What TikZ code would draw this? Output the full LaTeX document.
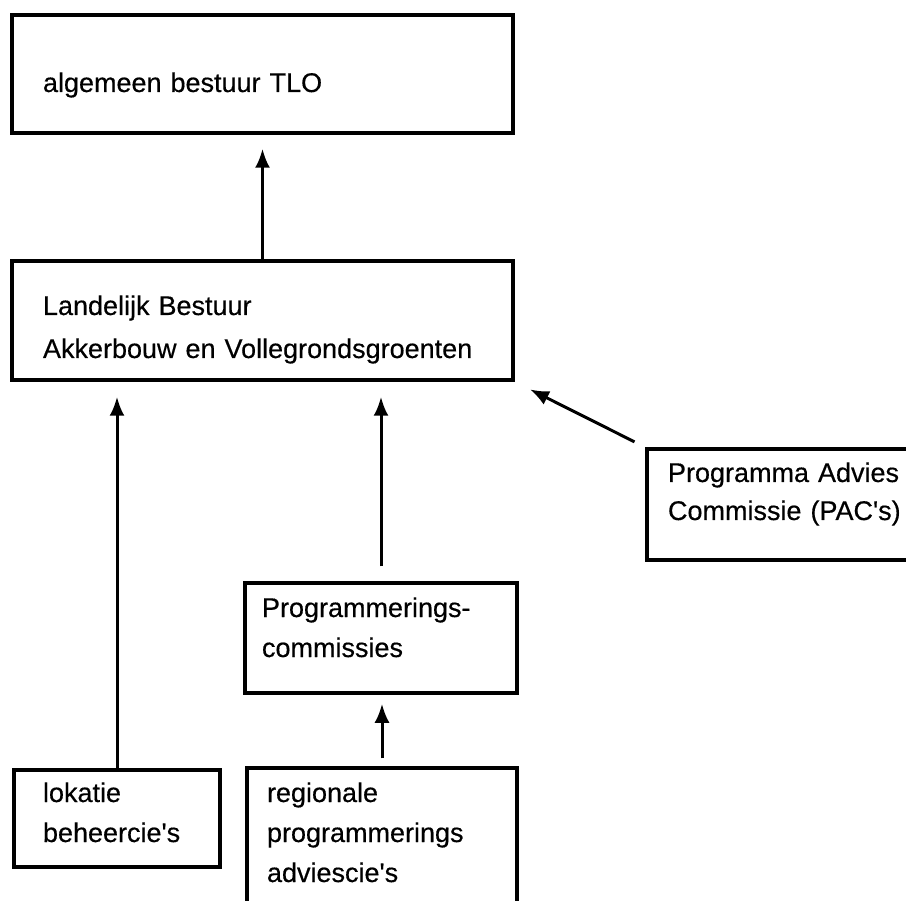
\documentclass[tikz,border=0pt]{standalone}
\usepackage{fontspec}
\setmainfont{Liberation Sans}
\newfontfamily\heavysans{Liberation Sans}[FakeBold=0.4]
\usetikzlibrary{arrows.meta}

\begin{document}
\begin{tikzpicture}[x=1pt, y=-1pt,
  font=\heavysans\fontsize{27}{40}\selectfont,
  box/.style={rectangle, draw, line width=3.5pt, align=left, inner ysep=0pt},
  link/.style={-{Latex[length=19pt,width=15pt]}, line width=3pt}]
  \useasboundingbox (0,0) rectangle (906,901);
  % Nodes
  \node (tlo) [box, inner xsep=31pt, text width=439pt, text height=77pt, text depth=41pt] at (262.5, 74) {algemeen bestuur TLO};
  \node (lb) [box, inner xsep=31pt, text width=439pt, text height=54pt, text depth=65pt] at (262.5, 320.5) {Landelijk Bestuur\\[3pt]Akkerbouw en Vollegrondsgroenten};
  \node (pac) [box, inner xsep=21pt, text width=241pt, text height=33pt, text depth=78pt] at (788.5, 504.5) {Programma Advies\\[-2pt]Commissie (PAC\textquotesingle s)};
  \node (prog) [box, inner xsep=17pt, text width=238pt, text height=34pt, text depth=76pt] at (381, 638) {Programmerings-\\commissies};
  \node (lok) [box, inner xsep=29pt, text width=148pt, text height=32pt, text depth=65pt] at (117, 818.5) {lokatie\\beheercie\textquotesingle s};
  \node (reg) [box, inner xsep=20pt, text width=230pt, text height=34pt, text depth=113pt] at (382, 841.5) {regionale\\programmerings\\adviescie\textquotesingle s};
  % Arrows
  \draw[link, shorten >=14pt] (lb.north) -- (tlo.south);
  \draw[link, shorten >=15pt] (lok.north) -- (lok.north |- lb.south);
  \draw[link, shorten <=15pt, shorten >=15pt] (prog.north) -- (prog.north |- lb.south);
  \draw[link, shorten <=8pt, shorten >=9pt] (reg.north) -- (reg.north |- prog.south);
  \draw[link, shorten <=12pt, shorten >=17pt] (pac.north west) -- (lb.south east);
\end{tikzpicture}
\end{document}
